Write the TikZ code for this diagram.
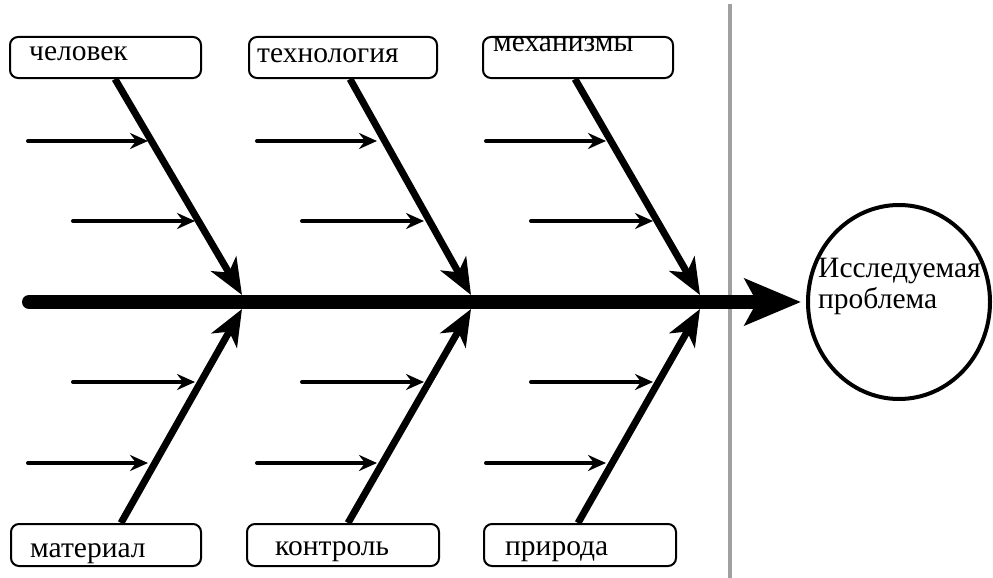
\documentclass[tikz,border=0pt]{standalone}
\usepackage{fontspec}
\setmainfont{Liberation Serif}
\usetikzlibrary{arrows.meta,shapes.geometric}
\tikzset{
  cause/.style={draw=black, line width=2pt, rounded corners=8pt, minimum height=41pt, inner sep=0pt},
  lbl/.style={anchor=base west, inner sep=0pt, font=\fontsize{29.5}{31}\selectfont},
  bone/.style={line width=7pt, -{Stealth[length=36pt,width=29pt,inset=10pt]}},
  rib/.style={line width=4pt, line cap=round, -{Stealth[length=18pt,width=16pt,inset=6pt]}},
  spine/.style={line width=14pt, line cap=round, -{Stealth[length=56pt,width=46pt,inset=12pt]}},
  divider/.style={line width=4pt, draw={rgb,255:red,160;green,160;blue,160}},
  problem/.style={draw=black, line width=4pt, ellipse, inner sep=0pt, minimum width=182pt, minimum height=194pt}
}
\begin{document}
\begin{tikzpicture}[x=1pt,y=-1pt]
\useasboundingbox (0,0) rectangle (993,578);
\fill[white] (0,0) rectangle (993,578);

% divider
\coordinate (dtop) at (730,4);
\coordinate (dbot) at (730,578);
\draw[divider] (dtop) -- (dbot);

% cause boxes
\node[cause, minimum width=191pt] (h1) at (105.5,57.5) {};
\node[cause, minimum width=188pt] (h2) at (343,57.5) {};
\node[cause, minimum width=190pt] (h3) at (578,57.5) {};
\node[cause, minimum width=190pt, minimum height=42pt] (b1) at (106,545) {};
\node[cause, minimum width=192pt, minimum height=42pt] (b2) at (343,545) {};
\node[cause, minimum width=192pt, minimum height=42pt] (b3) at (580,545) {};

\node[lbl] (h1t) at (29,61) {человек};
\node[lbl] (h2t) at (257,63) {технология};
\node[lbl] (h3t) at (493,52) {механизмы};
\node[lbl] (b1t) at (30,557) {материал};
\node[lbl] (b2t) at (275,555) {контроль};
\node[lbl] (b3t) at (505,555) {природа};

% problem
\node[problem] (prob) at (899,302) {};
\node[lbl, align=left] (probt) at (818,308) {Исследуемая\\проблема};

% spine
\coordinate (tail) at (29,302);
\draw[spine, shorten >=5pt] (tail) -- (prob.west);

% tips on the spine
\foreach \i/\x in {1/242,2/471,3/700}{
  \coordinate (ut\i) at (\x,295);
  \coordinate (lt\i) at (\x,309);
}
% main bones
\draw[bone] ([xshift=9.5pt]h1.south) -- (ut1);
\draw[bone] ([xshift=7pt]h2.south) -- (ut2);
\draw[bone] ([xshift=-3pt]h3.south) -- (ut3);
\draw[bone] ([xshift=15pt]b1.north) -- (lt1);
\draw[bone] ([xshift=5pt]b2.north) -- (lt2);
\draw[bone] ([xshift=-2pt]b3.north) -- (lt3);

% ribs
\foreach \i/\x in {1/242,2/471,3/700}{
  \coordinate (ua\i) at (\x-214,141);
  \coordinate (ub\i) at (\x-94,141);
  \coordinate (uc\i) at (\x-169,221);
  \coordinate (ud\i) at (\x-47,221);
  \coordinate (la\i) at (\x-169,382);
  \coordinate (lb\i) at (\x-47,382);
  \coordinate (lc\i) at (\x-214,463);
  \coordinate (ld\i) at (\x-94,463);
  \draw[rib] (ua\i) -- (ub\i);
  \draw[rib] (uc\i) -- (ud\i);
  \draw[rib] (la\i) -- (lb\i);
  \draw[rib] (lc\i) -- (ld\i);
}
\end{tikzpicture}
\end{document}
